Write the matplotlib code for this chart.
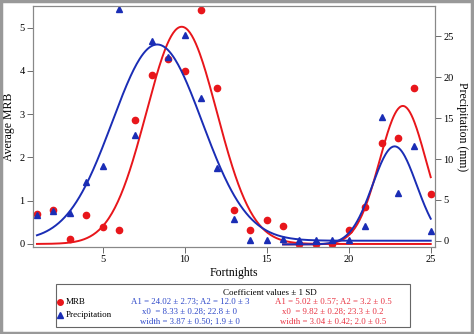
import numpy as np
import matplotlib
matplotlib.use('Agg')
import matplotlib.pyplot as plt
from matplotlib.patches import Rectangle
from matplotlib.lines import Line2D

plt.rcParams['font.family'] = ['Liberation Serif', 'DejaVu Serif']

# fortnights
fortnights = np.arange(1, 26)

# average MRB (left axis)
mrb = [0.69, 0.79, 0.12, 0.66, 0.39, 0.32, 2.86, 3.90, 4.27, 4.00,
       5.40, 3.60, 0.79, 0.32, 0.56, 0.42, -0.01, -0.01, -0.01, 0.32,
       0.85, 2.33, 2.46, 3.60, 1.16]

# precipitation in mm (right axis)
precip = [3.2, 3.6, 3.35, 7.2, 9.2, 28.4, 13.0, 24.4, 22.5, 25.2,
          17.5, 8.9, 2.7, 0.05, 0.05, 0.15, 0.1, 0.1, 0.1, 0.1,
          1.8, 15.2, 5.8, 11.6, 1.2]

# gaussian fit coefficients: (y0, A, x0, width)
mrb_fit1 = (0.0, 5.02, 9.82, 3.04)
mrb_fit2 = (-0.01, 3.2, 23.3, 2.0)
pre_fit1 = (0.0, 24.02, 8.33, 3.87)
pre_fit2 = (-0.45, 12.0, 22.8, 1.9)

red = '#e8161b'
blue = '#1a2db5'


def gauss(x, c):
    y0, a, x0, w = c
    return y0 + a * np.exp(-((x - x0) / w) ** 2)


x1 = np.linspace(1, 25, 400)
x2 = np.linspace(16, 25, 200)

fig = plt.figure(figsize=(4.74, 3.34), dpi=100)
ax = fig.add_axes([33/474, 1 - 247/334, (435-33)/474, (247-6)/334])
ax2 = ax.twinx()

ax.plot(x1, gauss(x1, mrb_fit1), color=red, lw=1.4)
ax.plot(x2, gauss(x2, mrb_fit2), color=red, lw=1.4)
ax.plot(fortnights, mrb, 'o', color=red, ms=4.5, mec=red)

ax2.plot(x1, gauss(x1, pre_fit1), color=blue, lw=1.4)
ax2.plot(x2, gauss(x2, pre_fit2), color=blue, lw=1.4)
ax2.plot(fortnights, precip, '^', color=blue, ms=4.5, mec=blue)

ax.set_xlim(0.76, 25.26)
ax.set_ylim(-0.07, 5.50)
ax2.set_ylim(-0.77, 28.73)

ax.set_xticks([5, 10, 15, 20, 25])
ax.set_yticks([0, 1, 2, 3, 4, 5])
ax2.set_yticks([0, 5, 10, 15, 20, 25])

for a in (ax, ax2):
    a.tick_params(labelsize=7.5, length=4, width=0.6, color='#555555', pad=2)
    for s in a.spines.values():
        s.set_color('#888888')
        s.set_linewidth(0.8)

ax.set_xlabel('Fortnights', fontsize=8.5, labelpad=2)
ax.set_ylabel('Average MRB', fontsize=8.5, labelpad=3)
ax2.set_ylabel('Precipitation (mm)', fontsize=8.5, rotation=270, labelpad=10)

# coefficient box
fig.patches.append(Rectangle((56/474, 1 - 327/334), (410-56)/474, (327-284)/334,
                             transform=fig.transFigure, fill=False,
                             ec='#666666', lw=0.8))
fig.text(270/474, 1 - 293/334, 'Coefficient values ± 1 SD', fontsize=6.5,
         ha='center', va='center')

fig.add_artist(Line2D([60/474], [1 - 302/334], marker='o', color=red, ms=4,
                      transform=fig.transFigure))
fig.add_artist(Line2D([60/474], [1 - 315/334], marker='^', color=blue, ms=4,
                      transform=fig.transFigure))
fig.text(66/474, 1 - 302/334, 'MRB', fontsize=6.5, va='center')
fig.text(66/474, 1 - 315/334, 'Precipitation', fontsize=6.5, va='center')

blue_txt = ['A1 = 24.02 ± 2.73; A2 = 12.0 ± 3',
            'x0  = 8.33 ± 0.28; 22.8 ± 0',
            'width = 3.87 ± 0.50; 1.9 ± 0']
red_txt = ['A1 = 5.02 ± 0.57; A2 = 3.2 ± 0.5',
           'x0  = 9.82 ± 0.28; 23.3 ± 0.2',
           'width = 3.04 ± 0.42; 2.0 ± 0.5']
rows = [302, 312, 322]
for t, yy in zip(blue_txt, rows):
    fig.text(190/474, 1 - yy/334, t, fontsize=6.3, color='#2a45c8',
             ha='center', va='center')
for t, yy in zip(red_txt, rows):
    fig.text(333/474, 1 - yy/334, t, fontsize=6.3, color='#e8303f',
             ha='center', va='center')

# outer frame
fig.patches.append(Rectangle((0.002, 0.004), 0.994, 0.992, transform=fig.transFigure,
                             fill=False, ec='#999999', lw=2.5))

fig.savefig('out.png', dpi=100)
